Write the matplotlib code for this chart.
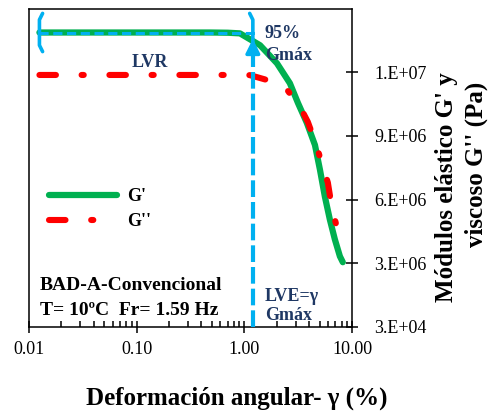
import numpy as np
import matplotlib.pyplot as plt

plt.rcParams['font.family'] = ['Liberation Serif', 'DejaVu Serif']

# strain sweep data (strain in %, moduli in Pa)
strain_gp = [0.0125, 0.02, 0.05, 0.1, 0.2, 0.3, 0.48, 0.7, 0.91, 1.4, 2.01, 2.65, 3.15,
             3.81, 4.53, 5.04, 5.6, 6.23, 6.93, 7.72, 8.22]
g_prime = [13.9e6, 13.9e6, 13.9e6, 13.9e6, 13.9e6, 13.9e6, 13.9e6, 13.89e6, 13.86e6, 13.3e6,
           12.45e6, 11.51e6, 10.58e6, 9.64e6, 8.6e6, 7.44e6, 6.17e6, 5.09e6, 4.16e6,
           3.36e6, 3.08e6]

strain_gpp = [0.0125, 0.02, 0.05, 0.1, 0.2, 0.5, 0.8, 1.0, 1.13, 1.66, 2.55, 3.34, 3.89,
              4.62, 5.37, 5.97, 6.5, 7.4, 8.22]
g_dprime = [11.9e6, 11.9e6, 11.9e6, 11.9e6, 11.9e6, 11.9e6, 11.9e6, 11.9e6, 11.89e6, 11.65e6,
            11.14e6, 10.34e6, 9.69e6, 8.65e6, 7.58e6, 6.83e6, 5.66e6, 4.53e6, 3.78e6]

xtick_vals = [0.01, 0.1, 1, 10]
xtick_labels = ['0.01', '0.10', '1.00', '10.00']
ytick_vals = [3e4, 3.03e6, 6.03e6, 9.03e6, 12.03e6]
ytick_labels = ['3.E+04', '3.E+06', '6.E+06', '9.E+06', '1.E+07']

g_max = 13.9e6       # plateau of G'
g_lve = 13.6e6       # G' at the end of the linear region
lve_strain = 1.2
lvr_start = 0.0125

green = '#00b050'
red = '#ff0000'
blue = '#00b0f0'
navy = '#1f3864'

fig = plt.figure(figsize=(4.89, 4.16), dpi=100)
ax = fig.add_axes([0.0593, 0.214, 0.6605, 0.764])
ax.set_xscale('log')
ax.set_xlim(0.01, 10)
ax.set_ylim(3e4, 1.5e7)

ax.plot(strain_gp, g_prime, color=green, lw=4.5, solid_capstyle='round',
        solid_joinstyle='round', label="G'", zorder=3)
ax.plot(strain_gpp, g_dprime, color=red, lw=4.4, linestyle=(0, (2.7, 4.2, 0.35, 4.2)),
        dash_capstyle='round', label="G''", zorder=4)

# linear viscoelastic range marker
ax.plot([lvr_start, lve_strain * 1.08], [g_max, g_max], color=blue, lw=2.2,
        linestyle=(0, (3, 1.5)), zorder=5)
ax.plot([lve_strain, lve_strain], [3e4, g_lve - 0.7e6], color=blue, lw=3,
        linestyle=(0, (4, 1.2)), zorder=5)
ax.annotate('', xy=(lve_strain, g_lve), xytext=(lve_strain, g_lve - 0.8e6),
            arrowprops=dict(arrowstyle='-|>,head_width=0.3,head_length=0.6', color=blue,
                            lw=2.5, shrinkA=0, shrinkB=0, mutation_scale=14), zorder=6)

hb = 0.9e6
for xe, s in [(lvr_start, 1), (lve_strain, -1)]:
    f = 1.07 ** s
    ax.plot([xe * f, xe, xe, xe * f],
            [g_max + hb, g_max + hb - 0.3e6, g_max - hb + 0.3e6, g_max - hb],
            color=blue, lw=2.6, solid_joinstyle='round', solid_capstyle='round', zorder=6)

ax.text(0.133, 12.26e6, 'LVR', color=navy, fontsize=13, fontweight='bold', ha='center')
ax.text(1.55, 13.62e6, '95%', color=navy, fontsize=13, fontweight='bold')
ax.text(1.55, 12.59e6, 'Gmáx', color=navy, fontsize=13, fontweight='bold')
ax.text(1.55, 1.25e6, 'LVE=γ', color=navy, fontsize=13, fontweight='bold')
ax.text(1.55, 0.36e6, 'Gmáx', color=navy, fontsize=13, fontweight='bold')
ax.text(0.01265, 1.76e6, 'BAD-A-Convencional', fontsize=14, fontweight='bold')
ax.text(0.01265, 0.59e6, 'T= 10ºC  Fr= 1.59 Hz', fontsize=14, fontweight='bold')

ax.legend(loc='upper left', bbox_to_anchor=(0.062, 0.437), frameon=False,
          handlelength=3.75, handletextpad=0.55, labelspacing=0.45, borderpad=0,
          borderaxespad=0, prop=dict(size=13, weight='bold'))

ax.yaxis.tick_right()
ax.set_yticks(ytick_vals)
ax.set_yticklabels(ytick_labels)
ax.set_xticks(xtick_vals)
ax.set_xticklabels(xtick_labels)
ax.tick_params(axis='both', which='major', direction='inout', length=8, width=1.1,
               labelsize=13, color='black')
ax.tick_params(axis='x', which='minor', direction='in', length=4, width=1.1)
ax.tick_params(axis='x', which='major', pad=6)
ax.tick_params(axis='y', which='major', pad=12)
for sp in ax.spines.values():
    sp.set_linewidth(1.1)

fig.text(0.485, 0.043, 'Deformación angular- γ (%)', fontsize=18, fontweight='bold',
         ha='center', va='center')
fig.text(0.914, 0.55, "Módulos elástico G' y", fontsize=18, fontweight='bold',
         rotation=90, ha='center', va='center')
fig.text(0.975, 0.606, "viscoso G'' (Pa)", fontsize=18, fontweight='bold',
         rotation=90, ha='center', va='center')

fig.savefig('out.png', dpi=100)
